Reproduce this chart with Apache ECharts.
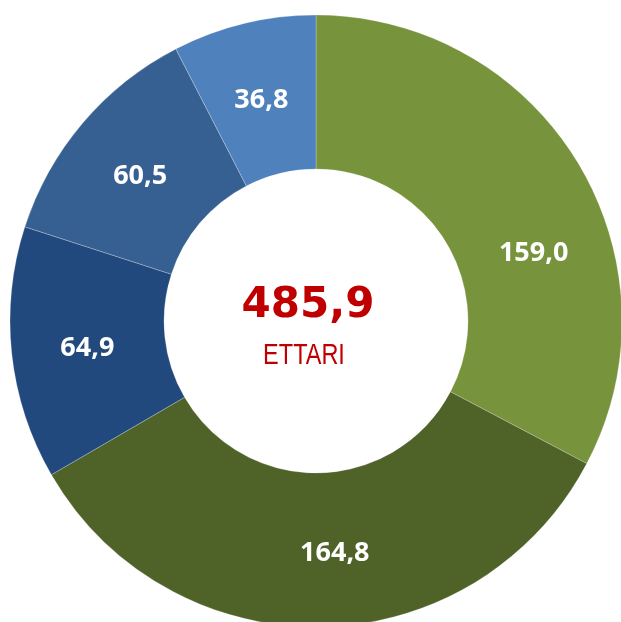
<!DOCTYPE html>
<html><head><meta charset="utf-8">
<script src="https://cdn.jsdelivr.net/npm/echarts@6/dist/echarts.min.js"></script>
<style>html,body{margin:0;padding:0;background:#fff}#c{width:621px;height:622px}</style>
</head><body><div id="c"></div>
<script>
const categories = ['A','B','C','D','E'];
const values = [159.0, 164.8, 64.9, 60.5, 36.8];
const colors = ['#77933C','#4F6228','#21497D','#376092','#4F81BD'];
const totalLabel = '485,9';
const unitLabel = 'ETTARI';
// manual label nudges (as in the reference)
const labelShift = [[19,52],[14,0],[2,3],[1,5],[0,5]];

const chart = echarts.init(document.getElementById('c'));
chart.setOption({
  animation: false,
  series: [{
    type: 'pie',
    center: [316, 321],
    radius: [152, 306],
    startAngle: 90,
    clockwise: true,
    data: categories.map((c, i) => ({name: c, value: values[i], itemStyle: {color: colors[i]}})),
    itemStyle: {borderColor: 'rgba(255,255,255,0.35)', borderWidth: 0.7},
    label: {
      show: true, position: 'inside', color: '#fff',
      fontFamily: 'Open Sans', fontWeight: 'bold', fontSize: 27,
      formatter: p => p.value.toFixed(1).replace('.', ',')
    },
    labelLayout: p => ({dx: labelShift[p.dataIndex][0], dy: labelShift[p.dataIndex][1]}),
    labelLine: {show: false},
    emphasis: {disabled: true}
  }],
  graphic: [
    {type: 'text', x: 308, y: 285, style: {text: totalLabel, fill: '#C00000', font: 'bold 42px "DejaVu Sans"', align: 'center', verticalAlign: 'top'}},
    {type: 'text', x: 304, y: 341, scaleX: 0.81, style: {text: unitLabel, fill: '#C00000', font: '29px "Liberation Sans"', align: 'center', verticalAlign: 'top'}}
  ]
});
</script></body></html>
